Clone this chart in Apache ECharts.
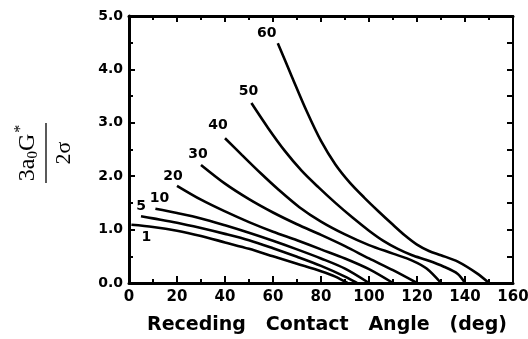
<!DOCTYPE html>
<html>
<head>
<meta charset="utf-8">
<script src="https://cdn.jsdelivr.net/npm/echarts@6/dist/echarts.min.js"></script>
<style>
html,body{margin:0;padding:0;background:#fff}
#chart{width:528px;height:339px}
</style>
</head>
<body>
<div id="chart"></div>
<script>
// Curve parameter labels
const curveNames = ['1', '5', '10', '20', '30', '40', '50', '60'];

// [receding contact angle (deg), 3a0G*/2σ]
const curve1  = [[1,1.09],[10,1.05],[20,0.98],[30,0.88],[40,0.76],[50,0.64],[60,0.5],[70,0.36],[80,0.22],[86,0.12],[91,0]];
const curve5  = [[5,1.25],[10,1.21],[20,1.13],[30,1.03],[40,0.92],[50,0.8],[60,0.65],[70,0.49],[80,0.32],[90,0.12],[95,0]];
const curve10 = [[11,1.39],[20,1.31],[30,1.21],[40,1.08],[50,0.94],[60,0.79],[70,0.63],[80,0.46],[90,0.27],[100,0]];
const curve20 = [[20,1.82],[30,1.56],[40,1.34],[50,1.14],[60,0.96],[70,0.8],[80,0.63],[90,0.46],[100,0.26],[110,0]];
const curve30 = [[30,2.21],[40,1.86],[50,1.57],[60,1.32],[70,1.1],[80,0.9],[90,0.69],[100,0.46],[110,0.24],[120,0]];
const curve40 = [[40,2.71],[47,2.4],[55,2.05],[62,1.76],[71,1.42],[80,1.15],[90,0.91],[100,0.71],[110,0.55],[118,0.42],[124,0.27],[130,0]];
const curve50 = [[51,3.37],[58,2.9],[65,2.47],[72,2.1],[79,1.79],[86,1.5],[93,1.23],[100,0.98],[106,0.79],[112,0.64],[118,0.52],[124,0.43],[131,0.31],[137,0.17],[140,0]];
const curve60 = [[62,4.49],[68,3.85],[74,3.22],[80,2.66],[86,2.22],[92,1.88],[98,1.6],[104,1.34],[110,1.09],[115,0.89],[120,0.72],[125,0.6],[130,0.52],[137,0.4],[145,0.18],[150,0]];

const curves = [curve1, curve5, curve10, curve20, curve30, curve40, curve50, curve60];

// Axis tick values
const xTicks = [0, 20, 40, 60, 80, 100, 120, 140, 160];
const yTicks = [0, 1, 2, 3, 4, 5];

// Pixel offsets of each curve label from the curve's first point
const labelOffsets = [[15,13],[0,-10],[4,-10],[-4,-9],[-3,-11],[-7,-13],[-3,-12],[-11,-10]];

const black = '#000';
const tickFont = 'DejaVu Sans';

function majorTick(len) {
  return {show: true, inside: true, length: len, lineStyle: {color: black, width: 2}};
}
function minorTick(len) {
  return {show: true, splitNumber: 2, length: len, lineStyle: {color: black, width: 2}};
}

const chart = echarts.init(document.getElementById('chart'), null, {renderer: 'canvas'});

const lineSeries = curves.map((pts, i) => ({
  type: 'line',
  name: curveNames[i],
  data: pts,
  smooth: 0.3,
  symbol: 'none',
  lineStyle: {color: black, width: 2.6},
  z: 3
}));

const labelSeries = {
  type: 'scatter',
  symbolSize: 0,
  silent: true,
  itemStyle: {color: 'transparent', opacity: 1},
  data: curves.map((pts, i) => ({
    value: pts[0],
    label: {
      show: true,
      position: 'inside',
      formatter: curveNames[i],
      offset: labelOffsets[i],
      color: black,
      opacity: 1,
      textBorderWidth: 0,
      fontFamily: tickFont,
      fontWeight: 'bold',
      fontSize: 14
    }
  })),
  z: 4
};

chart.setOption({
  animation: false,
  backgroundColor: '#fff',
  grid: {left: 129, right: 15, top: 16, bottom: 56, containLabel: false, outerBoundsMode: 'none'},
  xAxis: [
    {
      type: 'value', position: 'bottom',
      min: xTicks[0], max: xTicks[xTicks.length - 1], interval: xTicks[1] - xTicks[0],
      axisLine: {onZero: false, lineStyle: {color: black, width: 3}},
      axisTick: majorTick(7),
      minorTick: minorTick(4),
      splitLine: {show: false},
      axisLabel: {color: black, fontFamily: tickFont, fontWeight: 'bold', fontSize: 15, margin: 7},
      name: 'Receding   Contact   Angle   (deg)',
      nameLocation: 'middle',
      nameGap: 33,
      nameTextStyle: {color: black, fontFamily: 'DejaVu Sans', fontWeight: 'bold', fontSize: 19,
        padding: [0, 0, 0, 12]}
    },
    {
      type: 'value', position: 'top',
      min: xTicks[0], max: xTicks[xTicks.length - 1], interval: xTicks[1] - xTicks[0],
      axisLine: {onZero: false, lineStyle: {color: black, width: 3}},
      axisTick: majorTick(6),
      minorTick: minorTick(4),
      splitLine: {show: false},
      axisLabel: {show: false}
    }
  ],
  yAxis: [
    {
      type: 'value', position: 'left',
      min: yTicks[0], max: yTicks[yTicks.length - 1], interval: yTicks[1] - yTicks[0],
      axisLine: {show: true, onZero: false, lineStyle: {color: black, width: 3}},
      axisTick: majorTick(6),
      minorTick: minorTick(4),
      splitLine: {show: false},
      axisLabel: {color: black, fontFamily: tickFont, fontWeight: 'bold', fontSize: 14, margin: 6,
        formatter: v => v.toFixed(1)}
    },
    {
      type: 'value', position: 'right',
      min: yTicks[0], max: yTicks[yTicks.length - 1], interval: yTicks[1] - yTicks[0],
      axisLine: {show: true, onZero: false, lineStyle: {color: black, width: 2}},
      axisTick: majorTick(6),
      minorTick: minorTick(6),
      splitLine: {show: false},
      axisLabel: {show: false}
    }
  ],
  series: [...lineSeries, labelSeries],
  graphic: [
    {
      // vertical axis title: 3a0G* over 2σ, rotated
      type: 'group',
      x: 46, y: 153,
      rotation: Math.PI / 2,
      children: [
        {type: 'line', shape: {x1: -30, y1: 0, x2: 30, y2: 0}, style: {stroke: black, lineWidth: 1.3}},
        {
          type: 'text', x: 0, y: -3,
          style: {
            text: '{n|3a}{sub|0}{n|G}{sup|*}',
            align: 'center', verticalAlign: 'bottom',
            fill: black,
            rich: {
              n: {fontFamily: 'Liberation Serif', fontSize: 24, fill: black, lineHeight: 30, verticalAlign: 'middle'},
              sub: {fontFamily: 'Liberation Serif', fontSize: 15, fill: black, lineHeight: 30, verticalAlign: 'bottom', padding: [0, 0, 2, 0]},
              sup: {fontFamily: 'Liberation Serif', fontSize: 16, fill: black, lineHeight: 30, verticalAlign: 'top', padding: [0, 0, 0, 1]}
            }
          }
        },
        {
          type: 'text', x: 0, y: 7,
          style: {
            text: '2σ', align: 'center', verticalAlign: 'top',
            fill: black, fontFamily: 'Liberation Serif', fontSize: 22
          }
        }
      ]
    }
  ]
});
</script>
</body>
</html>
